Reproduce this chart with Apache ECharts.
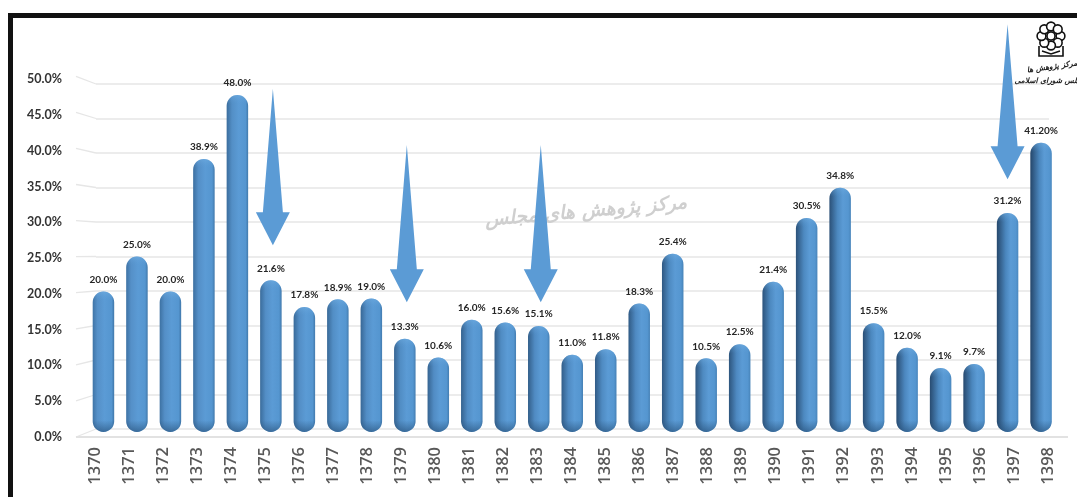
<!DOCTYPE html>
<html><head><meta charset="utf-8">
<style>html,body{margin:0;padding:0;background:#fff}#c{width:1077px;height:497px}</style>
<script src="https://cdn.jsdelivr.net/npm/echarts@6/dist/echarts.min.js"></script>
</head><body><div id="c"></div>
<script>
const years = ['1370','1371','1372','1373','1374','1375','1376','1377','1378','1379','1380','1381','1382','1383','1384','1385','1386','1387','1388','1389','1390','1391','1392','1393','1394','1395','1396','1397','1398'];
const values = [20.0,25.0,20.0,38.9,48.0,21.6,17.8,18.9,19.0,13.3,10.6,16.0,15.6,15.1,11.0,11.8,18.3,25.4,10.5,12.5,21.4,30.5,34.8,15.5,12.0,9.1,9.7,31.2,41.2];
const valueLabels = ['20.0%','25.0%','20.0%','38.9%','48.0%','21.6%','17.8%','18.9%','19.0%','13.3%','10.6%','16.0%','15.6%','15.1%','11.0%','11.8%','18.3%','25.4%','10.5%','12.5%','21.4%','30.5%','34.8%','15.5%','12.0%','9.1%','9.7%','31.2%','41.20%'];
const arrowYears = ['1375','1379','1383','1397'];
const arrowTops = [48.9,40.9,40.9,58.1];
const arrowTips = [26.6,18.5,18.5,36];
const watermark = 'مرکز پژوهش های مجلس';
const logoLine1 = 'مرکز پژوهش ها';
const logoLine2 = 'مجلس شورای اسلامی';

const W = 1077, H = 497;
const mix = (a,b,t)=>{const p=s=>[1,3,5].map(i=>parseInt(s.substr(i,2),16));const A=p(a),B=p(b);return '#'+A.map((v,i)=>Math.round(v+(B[i]-v)*t).toString(16).padStart(2,'0')).join('');};
const sideGradient = i => {
  const t = i/(years.length-1);
  return {type:'linear',x:0,y:0,x2:1,y2:0,colorStops:[
    {offset:0,color:mix('#3f74a6','#25466a',t)},
    {offset:0.22+0.2*t,color:mix('#5590c8','#4a86bd',t)},
    {offset:0.55+0.1*t,color:'#5b9bd5'},
    {offset:0.88,color:'#5596d0'},
    {offset:1,color:mix('#3f76a8','#4b89c0',t)}]};
};
const capGradient = v => {
  const h = v*7.02, e = 9/h;
  return {type:'linear',x:0,y:0,x2:0,y2:1,colorStops:[
    {offset:0,color:'rgba(120,180,230,0.45)'},{offset:e,color:'rgba(91,155,213,0)'},
    {offset:1-e*1.3,color:'rgba(40,80,120,0)'},{offset:1,color:'rgba(35,75,115,0.6)'}]};
};

const chart = echarts.init(document.getElementById('c'),null,{renderer:'canvas'});
chart.setOption({
  animation:false,
  backgroundColor:'#fff',
  textStyle:{fontFamily:'Lato'},
  grid:[
    {left:78,right:12,top:79.3,bottom:H-437},
    {left:96,right:W-1049,top:84,bottom:H-429},
    {left:86.7,right:W-1057.8,top:432-60*7.02,bottom:H-432}
  ],
  xAxis:[
    {gridIndex:0,type:'category',data:years,axisLine:{show:false},axisTick:{show:false},
     axisLabel:{rotate:90,margin:10,interval:0,fontSize:16.5,fontFamily:'Open Sans',color:'#595959',fontWeight:600}},
    {gridIndex:1,type:'category',data:years,show:false},
    {gridIndex:2,type:'category',data:years,show:false}
  ],
  yAxis:[
    {gridIndex:0,type:'value',min:0,max:50,interval:5,axisLine:{show:false},axisTick:{show:false},splitLine:{show:false},
     axisLabel:{margin:16,fontSize:12.5,fontWeight:700,fontFamily:'Lato',color:'#333',formatter:v=>v.toFixed(1)+'%'}},
    {gridIndex:1,type:'value',min:0,max:50,interval:5,axisLine:{show:false},axisTick:{show:false},axisLabel:{show:false},
     splitLine:{show:true,lineStyle:{color:'#e6e6e6',width:1.5}}},
    {gridIndex:2,type:'value',min:0,max:60,show:false,splitLine:{show:false}}
  ],
  series:[
    {type:'bar',name:'body',xAxisIndex:2,yAxisIndex:2,barWidth:21.5,z:3,
     data:values.map((v,i)=>({value:v,itemStyle:{color:sideGradient(i),borderRadius:10.7}})),
     label:{show:true,position:'top',distance:7,fontSize:10,fontWeight:700,fontFamily:'Lato',color:'#262626',
            formatter:p=>valueLabels[p.dataIndex]}},
    {type:'bar',name:'shade',xAxisIndex:2,yAxisIndex:2,barWidth:21.5,barGap:'-100%',z:4,silent:true,
     data:values.map(v=>({value:v,itemStyle:{color:capGradient(v),borderRadius:10.7}}))},
    {type:'custom',name:'arrows',xAxisIndex:2,yAxisIndex:2,z:8,clip:false,silent:true,
     data:arrowYears.map((y,i)=>[y,arrowTops[i],arrowTips[i]]),
     encode:{x:0,y:[1,2]},
     renderItem:(params,api)=>{
       const nudge = params.dataIndex<3?2:0;
       const top = api.coord([api.value(0),api.value(1)]);
       const tip = api.coord([api.value(0),api.value(2)]);
       const x = top[0]+nudge, hy = tip[1]-33;
       return {type:'polygon',shape:{points:[[x,top[1]],[x+10,hy],[x+17,hy],[x,tip[1]],[x-17,hy],[x-10,hy]]},
               style:{fill:'#5b9bd5'}};
     }}
  ]
});

const ticks = [0,5,10,15,20,25,30,35,40,45,50];
const gfx = [];
ticks.forEach(t=>{
  const back = chart.convertToPixel({yAxisIndex:1},t);
  const front = chart.convertToPixel({yAxisIndex:0},t) - 3*t/50;
  gfx.push({type:'line',shape:{x1:76,y1:front,x2:96,y2:back},style:{stroke:'#e6e6e6',lineWidth:1.3},z:1});
});
const floorY = chart.convertToPixel({yAxisIndex:0},0);
gfx.push({type:'line',shape:{x1:76,y1:floorY,x2:1068,y2:floorY},style:{stroke:'#e2e2e2',lineWidth:2},z:1});
gfx.push({type:'rect',shape:{x:8,y:13,width:W-8,height:5},style:{fill:'#111'},z:20});
gfx.push({type:'rect',shape:{x:8,y:13,width:5,height:H-13},style:{fill:'#111'},z:20});
gfx.push({type:'text',x:586,y:212,rotation:5*Math.PI/180,z:6,
  style:{text:watermark,fill:'#cfcfcf',font:'italic 700 19px "DejaVu Sans"',textAlign:'center',textVerticalAlign:'middle'}});
const lc={x:1051,y:36};
const ring=(x,y,r)=>({type:'circle',shape:{cx:x,cy:y,r},style:{fill:'#fff',stroke:'#111',lineWidth:1.6},z:21});
gfx.push({type:'polyline',shape:{points:[[1039,46],[1039,56],[1063,56],[1063,46]]},style:{fill:'none',stroke:'#111',lineWidth:1.6},z:21});
gfx.push({type:'polyline',shape:{points:[[1042,51],[1051,54],[1060,51]]},style:{fill:'none',stroke:'#111',lineWidth:1.4},z:21});
for(let i=0;i<8;i++){const a=i*Math.PI/4;gfx.push(ring(lc.x+9.5*Math.cos(a),lc.y+9.5*Math.sin(a),4.4));}
gfx.push(ring(lc.x,lc.y,4));
gfx.push({type:'text',x:1052,y:67,rotation:8*Math.PI/180,z:21,style:{text:logoLine1,fill:'#222',font:'italic 700 7.5px "DejaVu Sans"',textAlign:'center',textVerticalAlign:'middle'}});
gfx.push({type:'text',x:1050,y:81,z:21,style:{text:logoLine2,fill:'#222',font:'italic 700 7.5px "DejaVu Sans"',textAlign:'center',textVerticalAlign:'middle'}});
chart.setOption({graphic:{elements:gfx}});
</script></body></html>
